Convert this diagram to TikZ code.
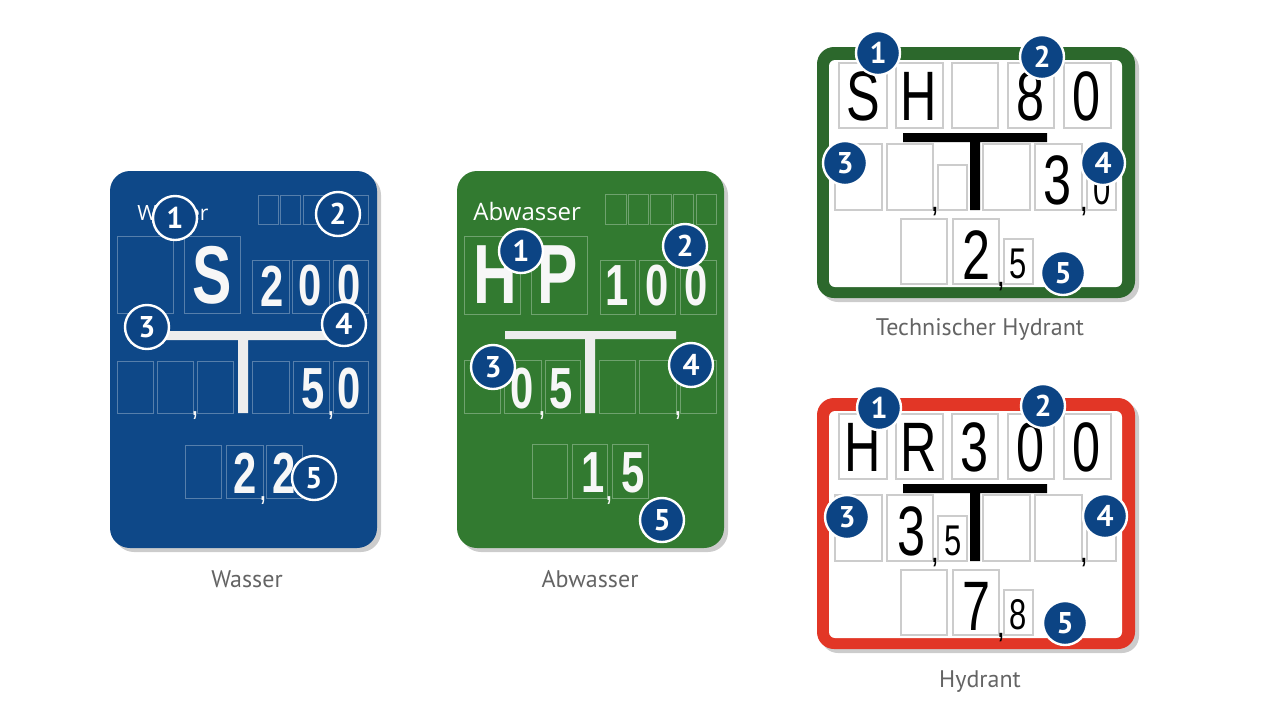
\documentclass[tikz,border=0pt]{standalone}
\usepackage{fontspec}
\usetikzlibrary{shadows}

\newfontfamily\beschriftfont{PT Sans}
\newfontfamily\schildfont{Open Sans}
\newfontfamily\tafelfont[FakeStretch=0.72]{Liberation Sans}
\newfontfamily\dinfont[FakeStretch=0.72]{Liberation Sans}
\newfontfamily\kreisfont{PT Sans}

\definecolor{wasserblau}{RGB}{14,72,136}
\definecolor{kreisblau}{RGB}{12,68,132}
\definecolor{abwassergruen}{RGB}{50,122,48}
\definecolor{hydrantgruen}{RGB}{44,104,44}
\definecolor{hydrantrot}{RGB}{226,54,38}
\definecolor{beschriftgrau}{RGB}{100,100,100}

\tikzset{
  tafel/.style={rounded corners=10pt, drop shadow={shadow xshift=2pt, shadow yshift=-2pt, opacity=.4}},
  rahmen/.style={rounded corners=8.5pt, drop shadow={shadow xshift=2pt, shadow yshift=-2pt, opacity=.4}},
  feld/.style={draw=white, draw opacity=.3, line width=.5pt},
  hfeld/.style={draw=black!20, line width=.6pt},
  balken/.style={fill=black!7},
  nummer/.style={circle, fill=kreisblau, draw=white, line width=1.2pt, minimum size=22pt, inner sep=0pt, text=white, font=\kreisfont\bfseries\fontsize{15}{15}\selectfont},
  gross/.style={inner sep=0pt, text=black!3, font=\tafelfont\bfseries\fontsize{41}{41}\selectfont},
  ziffer/.style={inner sep=0pt, text=black!3, font=\tafelfont\bfseries\fontsize{29}{29}\selectfont},
  komma/.style={inner sep=0pt, text=black!3, font=\tafelfont\bfseries\fontsize{13}{13}\selectfont},
  din/.style={inner sep=0pt, font=\dinfont\fontsize{35}{35}\selectfont},
  dinklein/.style={inner sep=0pt, font=\dinfont\fontsize{21.5}{21.5}\selectfont},
  dinkomma/.style={inner sep=0pt, font=\dinfont\bfseries\fontsize{14}{14}\selectfont},
  schildtitel/.style={anchor=base west, inner sep=0pt, text=white, font=\schildfont},
  unterschrift/.style={anchor=base, inner sep=0pt, text=beschriftgrau, font=\beschriftfont\fontsize{12}{12}\selectfont}
}

% frame, boxes and T of a hydrant sign
\newcommand{\hydrantschild}[1]{%
  \fill[#1, rahmen] (817,47) rectangle (1135,298);
  \fill[white, rounded corners=3pt] (829,60) rectangle (1122,287);
  \draw[hfeld] (839,63) rectangle (887,128) (896,63) rectangle (943,128) (952,63) rectangle (998,128) (1008,63) rectangle (1054,128) (1064,63) rectangle (1111,128);
  \draw[hfeld] (835,144) rectangle (882,210) (887,144) rectangle (933,210) (938,165) rectangle (967,210) (983,144) rectangle (1030,210) (1035,144) rectangle (1082,210) (1087,165) rectangle (1116,210);
  \draw[hfeld] (901,219) rectangle (947,284) (953,219) rectangle (999,284) (1004,239) rectangle (1033,284);
  \fill[black] (903,133) rectangle (1047,142) (970,142) rectangle (980,210);
}

\begin{document}
\begin{tikzpicture}[x=0.5pt, y=-0.5pt]
  \useasboundingbox (0,0) rectangle (1280,720);
  % Wasser
  \fill[wasserblau, tafel] (110,171) rectangle (377,548);
  \draw[feld] (258,195) rectangle (278,224) (280.5,195) rectangle (300.5,224) (303,195) rectangle (323,224) (325.5,195) rectangle (345.5,224) (348,195) rectangle (368,224);
  \draw[feld] (117,236) rectangle (173,313) (184,236) rectangle (240,313);
  \draw[feld] (252,260) rectangle (289,313) (292,260) rectangle (329,313) (333,260) rectangle (368,313);
  \draw[feld] (117,361) rectangle (153,413) (157,361) rectangle (193,413) (197,361) rectangle (233,413) (252,361) rectangle (289,413) (293,361) rectangle (329,413) (333,361) rectangle (368,413);
  \draw[feld] (185,445) rectangle (221,498) (226,445) rectangle (263,498) (266,445) rectangle (302,498);
  \fill[balken] (158,331) rectangle (330,340) (238,340) rectangle (248,413);
  \node[schildtitel, font=\schildfont\fontsize{10.5}{10.5}\selectfont] (w-titel) at (137,220) {Wasser};
  \node[gross] (w-s) at (212,275) {S};
  \node[ziffer] (w-z1) at (272,286) {2};
  \node[ziffer] (w-z2) at (310,286) {0};
  \node[ziffer] (w-z3) at (349,286) {0};
  \node[ziffer] (w-z4) at (313,389) {5};
  \node[ziffer] (w-z5) at (349,389) {0};
  \node[ziffer] (w-z6) at (245,473) {2};
  \node[ziffer] (w-z7) at (284,473) {2};
  \node[komma] (w-k1) at (195,416) {,};
  \node[komma] (w-k2) at (331,416) {,};
  \node[komma] (w-k3) at (263,501) {,};
  \node[nummer] (w-n1) at (175,218) {1};
  \node[nummer] (w-n2) at (338,214) {2};
  \node[nummer] (w-n3) at (147,327) {3};
  \node[nummer] (w-n4) at (344,324) {4};
  \node[nummer] (w-n5) at (314,478) {5};
  \node[unterschrift] (w-name) at (247,587) {Wasser};

  % Abwasser
  \fill[abwassergruen, tafel] (457,171) rectangle (724,548);
  \draw[feld] (605,194) rectangle (626,224) (628,194) rectangle (648,224) (650,194) rectangle (671,224) (673,194) rectangle (693,224) (696,194) rectangle (716,224);
  \draw[feld] (464,236) rectangle (520,314) (531,236) rectangle (587,314);
  \draw[feld] (600,260) rectangle (635,314) (639,260) rectangle (675,314) (680,260) rectangle (716,314);
  \draw[feld] (464,360) rectangle (500,413) (504,360) rectangle (541,413) (545,360) rectangle (580,413) (599,360) rectangle (635,413) (639,360) rectangle (676,413) (680,360) rectangle (716,413);
  \draw[feld] (532,444) rectangle (567,498) (572,444) rectangle (607,498) (612,444) rectangle (648,498);
  \fill[balken] (505,331) rectangle (676,339) (585,339) rectangle (595,413);
  \node[schildtitel, font=\schildfont\fontsize{12}{12}\selectfont] (a-titel) at (473,220) {Abwasser};
  \node[gross, font=\tafelfont\bfseries\fontsize{42}{42}\selectfont] (a-h) at (495,275) {H};
  \node[gross, font=\tafelfont\bfseries\fontsize{42}{42}\selectfont] (a-p) at (558,275) {P};
  \node[ziffer] (a-z1) at (617,286) {1};
  \node[ziffer] (a-z2) at (657,286) {0};
  \node[ziffer] (a-z3) at (696,286) {0};
  \node[ziffer] (a-z4) at (522,389) {0};
  \node[ziffer] (a-z5) at (561,389) {5};
  \node[ziffer] (a-z6) at (593,473) {1};
  \node[ziffer] (a-z7) at (633,473) {5};
  \node[komma] (a-k1) at (542,416) {,};
  \node[komma] (a-k2) at (678,416) {,};
  \node[komma] (a-k3) at (609,501) {,};
  \node[nummer] (a-n1) at (521,251) {1};
  \node[nummer] (a-n2) at (685,246) {2};
  \node[nummer] (a-n3) at (493,367) {3};
  \node[nummer] (a-n4) at (691,365) {4};
  \node[nummer] (a-n5) at (662,520) {5};
  \node[unterschrift] (a-name) at (590,587) {Abwasser};

  % Technischer Hydrant
  \hydrantschild{hydrantgruen}
  \node[din] (t-s) at (863,96) {S};
  \node[din] (t-h) at (919,96) {H};
  \node[din] (t-z1) at (1031,96) {8};
  \node[din] (t-z2) at (1087,96) {0};
  \node[din] (t-z3) at (1058,180) {3};
  \node[dinklein] (t-z4) at (1102,190) {0};
  \node[din] (t-z5) at (977,255) {2};
  \node[dinklein] (t-z6) at (1018,264) {5};
  \node[dinkomma] (t-k1) at (935,212) {,};
  \node[dinkomma] (t-k2) at (1084,212) {,};
  \node[dinkomma] (t-k3) at (1001,287) {,};
  \node[nummer] (t-n1) at (878,53) {1};
  \node[nummer] (t-n2) at (1042,57) {2};
  \node[nummer] (t-n3) at (845,163) {3};
  \node[nummer] (t-n4) at (1103,163) {4};
  \node[nummer] (t-n5) at (1063,273) {5};
  \node[unterschrift] (t-name) at (980,335) {Technischer Hydrant};

  % Hydrant
  \begin{scope}[shift={(0,351)}]
    \hydrantschild{hydrantrot}
    \node[din] (h-h) at (863,96) {H};
    \node[din] (h-r) at (919,96) {R};
    \node[din] (h-z1) at (975,96) {3};
    \node[din] (h-z2) at (1031,96) {0};
    \node[din] (h-z3) at (1087,96) {0};
    \node[din] (h-z4) at (912,180) {3};
    \node[dinklein] (h-z5) at (953,190) {5};
    \node[din] (h-z6) at (977,255) {7};
    \node[dinklein] (h-z7) at (1018,264) {8};
    \node[dinkomma] (h-k1) at (935,212) {,};
    \node[dinkomma] (h-k2) at (1084,212) {,};
    \node[dinkomma] (h-k3) at (1001,287) {,};
    \node[nummer] (h-n1) at (879,57) {1};
    \node[nummer] (h-n2) at (1043,55) {2};
    \node[nummer] (h-n3) at (847,166) {3};
    \node[nummer] (h-n4) at (1105,165) {4};
    \node[nummer] (h-n5) at (1065,272) {5};
    \node[unterschrift] (h-name) at (980,336) {Hydrant};
  \end{scope}
\end{tikzpicture}
\end{document}
